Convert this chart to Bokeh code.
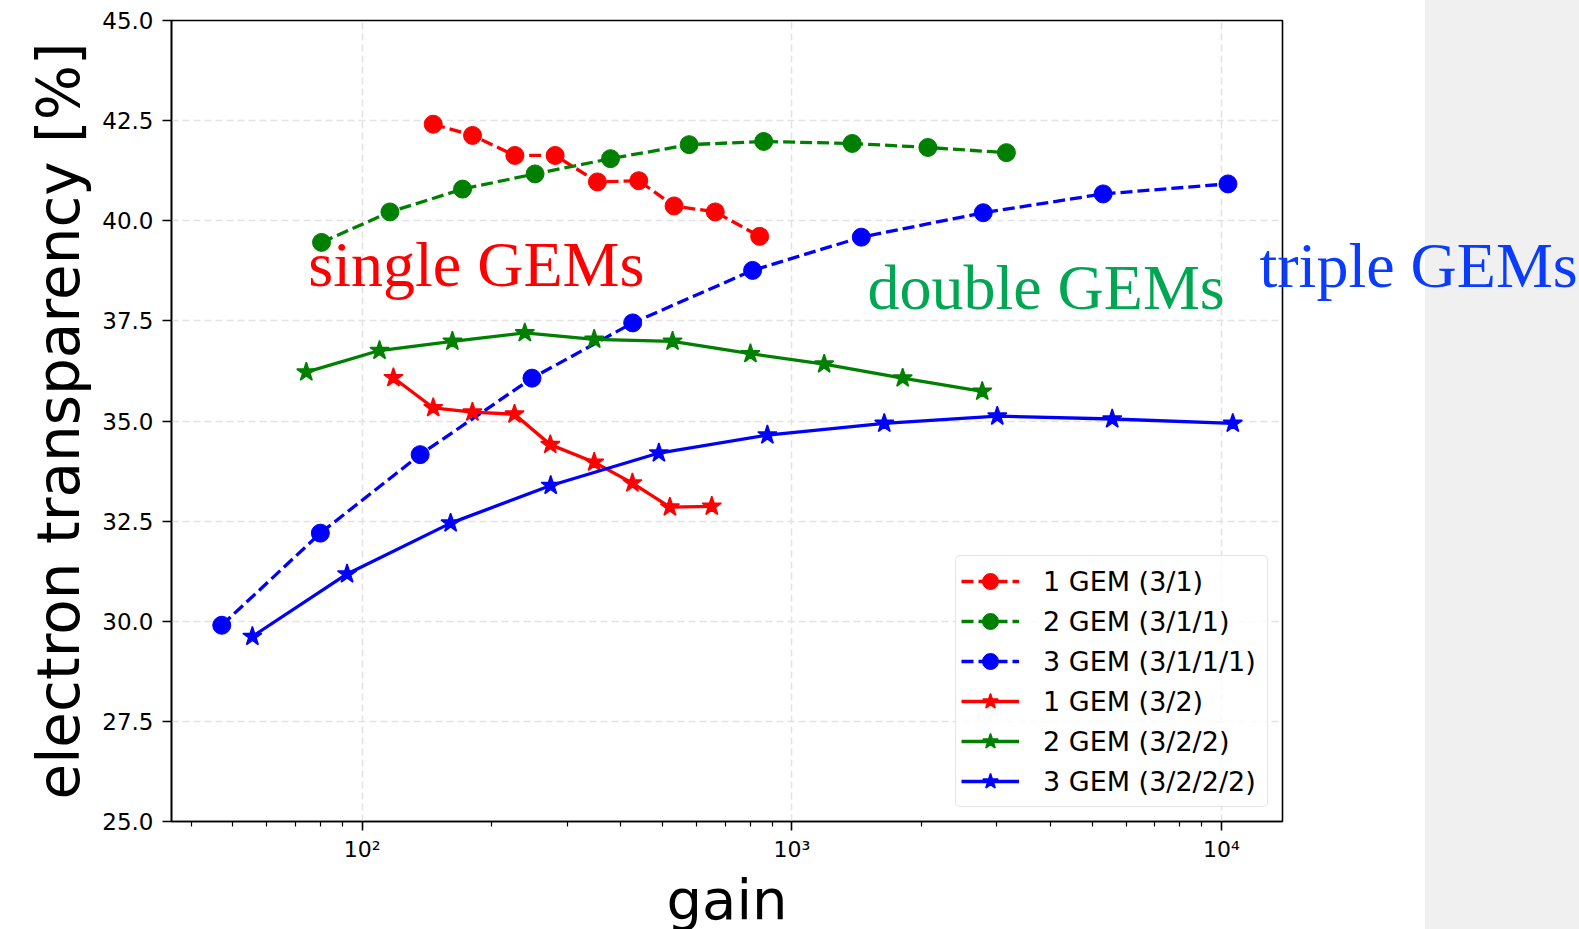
from bokeh.plotting import figure
from bokeh.models import (FixedTicker, PrintfTickFormatter, CustomJSTickFormatter, Label,
                          Legend, LegendItem, GlobalInlineStyleSheet, Range1d)
from bokeh.embed import file_html
from bokeh.resources import INLINE

# ---- data ----
gain_1gem_31 = [146.3, 180.6, 226.6, 281.2, 352.7, 440.2, 531.9, 663.3, 841.4]
trans_1gem_31 = [42.41, 42.13, 41.63, 41.63, 40.97, 41.00, 40.37, 40.22, 39.61]

gain_2gem_311 = [80.4, 116.0, 171.2, 252.5, 378.4, 576.6, 859.9, 1382, 2073, 3158]
trans_2gem_311 = [39.46, 40.22, 40.79, 41.17, 41.55, 41.90, 41.98, 41.93, 41.83, 41.70]

gain_3gem_3111 = [47.1, 79.9, 136.4, 248.4, 426.1, 810.2, 1451, 2789, 5303, 10352]
trans_3gem_3111 = [29.90, 32.20, 34.16, 36.07, 37.45, 38.76, 39.59, 40.20, 40.67, 40.92]

gain_1gem_32 = [118.2, 146.3, 180.5, 226.2, 274.0, 346.7, 425.5, 520.1, 651.0]
trans_1gem_32 = [36.08, 35.33, 35.22, 35.17, 34.41, 33.97, 33.45, 32.85, 32.87]

gain_2gem_322 = [74.1, 109.7, 162.1, 239.0, 346.7, 527.6, 800.9, 1189, 1811, 2774]
trans_2gem_322 = [36.22, 36.76, 36.99, 37.20, 37.04, 36.99, 36.68, 36.42, 36.07, 35.74]

gain_3gem_3222 = [55.5, 92.2, 160.6, 274.6, 490.3, 877.0, 1641, 3007, 5567, 10625]
trans_3gem_3222 = [29.62, 31.18, 32.45, 33.39, 34.20, 34.65, 34.94, 35.12, 35.05, 34.94]

series_labels = ["1 GEM (3/1)", "2 GEM (3/1/1)", "3 GEM (3/1/1/1)",
                 "1 GEM (3/2)", "2 GEM (3/2/2)", "3 GEM (3/2/2/2)"]

y_ticks = [25.0, 27.5, 30.0, 32.5, 35.0, 37.5, 40.0, 42.5, 45.0]
x_major_ticks = [1e2, 1e3, 1e4]

annot_texts = ["single GEMs", "double GEMs", "triple GEMs"]
annot_colors = ["#ff0000", "#00a651", "#0a3cff"]

# ---- figure ----
sheet = GlobalInlineStyleSheet(css=(
    "html, body { overflow: hidden !important; "
    "background: linear-gradient(to right, #ffffff 1425px, #f0f0f0 1425px) !important; }"))

p = figure(frame_width=1111, frame_height=801, x_axis_type="log",
           x_range=Range1d(35.98, 13868), y_range=Range1d(25, 45),
           output_backend="svg", toolbar_location=None,
           min_border_left=171, min_border_right=297, min_border_top=20, min_border_bottom=100,
           border_fill_color=None, background_fill_color="white",
           outline_line_color="black", outline_line_width=1.6,
           stylesheets=[sheet])

minor = [m * 10 ** k for k in (1, 2, 3, 4) for m in range(2, 10)]
p.xaxis.ticker = FixedTicker(ticks=x_major_ticks, minor_ticks=minor)
p.xgrid.ticker = FixedTicker(ticks=x_major_ticks)
p.xaxis.formatter = CustomJSTickFormatter(code="""
const e = Math.round(Math.log10(tick));
const s = {"1":"\u00b9","2":"\u00b2","3":"\u00b3","4":"\u2074","5":"\u2075"};
return "10" + s[String(e)];
""")
yt = FixedTicker(ticks=y_ticks)
p.yaxis.ticker = yt
p.ygrid.ticker = yt
p.yaxis.formatter = PrintfTickFormatter(format="%.1f")

for ax in (p.xaxis[0], p.yaxis[0]):
    ax.axis_line_width = 1.6
    ax.axis_line_color = "black"
    ax.major_tick_line_width = 1.6
    ax.major_tick_out = 9
    ax.major_tick_in = 0
    ax.minor_tick_out = 5
    ax.minor_tick_in = 0
    ax.minor_tick_line_width = 1.2
    ax.major_label_text_font = "DejaVu Sans"
    ax.major_label_text_color = "black"
    ax.axis_label_text_font = "DejaVu Sans"
    ax.axis_label_text_font_style = "normal"
    ax.axis_label_text_color = "black"
p.xaxis.major_label_text_font_size = "22px"
p.yaxis.major_label_text_font_size = "23px"
p.xaxis.major_label_standoff = 6
p.yaxis.major_label_standoff = 9
p.xaxis.axis_label_text_font_size = "56px"
p.yaxis.axis_label_text_font_size = "58px"
p.xaxis.axis_label_standoff = 2
p.yaxis.axis_label_standoff = 6
p.yaxis.minor_tick_line_color = None
p.xaxis.axis_label = "gain"
p.yaxis.axis_label = "electron transparency [%]"

for g in (p.xgrid[0], p.ygrid[0]):
    g.grid_line_color = "#e3e3e3"
    g.grid_line_dash = "7 4"
    g.grid_line_width = 1.6

# ---- series ----
series = [
    (gain_1gem_31, trans_1gem_31, "#ff0000", "dashed"),
    (gain_2gem_311, trans_2gem_311, "#008000", "dashed"),
    (gain_3gem_3111, trans_3gem_3111, "#0000ff", "dashed"),
    (gain_1gem_32, trans_1gem_32, "#ff0000", "solid"),
    (gain_2gem_322, trans_2gem_322, "#008000", "solid"),
    (gain_3gem_3222, trans_3gem_3222, "#0000ff", "solid"),
]
items = []
for (xs, ys, col, style), lab in zip(series, series_labels):
    if style == "dashed":
        lr = p.line(xs, ys, line_color=col, line_width=3.3, line_dash="12 5")
        sr = p.scatter(xs, ys, marker="circle", size=18, fill_color=col, line_color=col)
    else:
        lr = p.line(xs, ys, line_color=col, line_width=3.3)
        sr = p.scatter(xs, ys, marker="star", size=20, fill_color=col, line_color=col, line_width=1.5)
    items.append(LegendItem(label=lab, renderers=[lr, sr]))

legend = Legend(items=items, location="bottom_right", margin=14,
                label_text_font="DejaVu Sans", label_text_font_size="27px",
                label_text_color="black",
                glyph_width=58, glyph_height=40, label_height=31, label_width=219,
                label_standoff=24, spacing=0, padding=5,
                border_line_color="#cccccc", border_line_width=1.5,
                background_fill_color="white", background_fill_alpha=0.8)
if "border_radius" in Legend.properties():
    legend.border_radius = 5
p.add_layout(legend)

p.add_layout(Label(x=74.9, y=38.90, text=annot_texts[0], text_color=annot_colors[0],
                   text_font="Liberation Serif", text_font_size="64px",
                   text_baseline="alphabetic", text_align="left"))
p.add_layout(Label(x=1499, y=38.33, text=annot_texts[1], text_color=annot_colors[1],
                   text_font="Liberation Serif", text_font_size="64px",
                   text_baseline="alphabetic", text_align="left"))
# placed in the right side panel so that it may run past the plot frame
p.add_layout(Label(x=1259, y=265, x_units="canvas", y_units="canvas",
                   text=annot_texts[2], text_color=annot_colors[2],
                   text_font="Liberation Serif", text_font_size="64px",
                   text_baseline="alphabetic", text_align="left"), "right")

open("out.html", "w").write(file_html(p, INLINE))
